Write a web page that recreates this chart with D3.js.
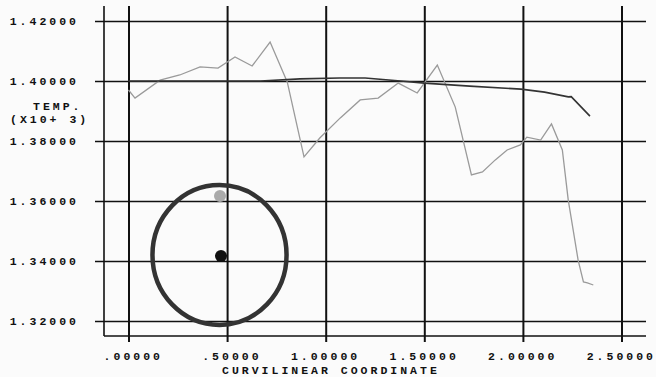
<!DOCTYPE html>
<html>
<head>
<meta charset="utf-8">
<script src="https://cdn.jsdelivr.net/npm/d3@7"></script>
<style>
  body { margin: 0; background: #fbfbfb; }
  svg { display: block; }
  text { font-family: "Liberation Mono", "DejaVu Sans Mono", monospace; font-weight: bold; font-size: 11.5px; letter-spacing: 3px; fill: #111; }
</style>
</head>
<body>
<svg id="chart"></svg>
<script>
var svgWidth = 656;
var svgHeight = 377;

// tick values
var xTicks = [0, 0.5, 1.0, 1.5, 2.0, 2.5];
var yTicks = [1.32, 1.34, 1.36, 1.38, 1.40, 1.42];

// dark curve (nearly flat)
var darkX = [0.00, 0.36, 0.67, 0.87, 1.07, 1.20, 1.38, 1.50, 1.73, 1.99, 2.11, 2.23, 2.245, 2.29, 2.34];
var darkY = [1.4000, 1.4000, 1.4000, 1.4007, 1.4010, 1.4010, 1.4000, 1.3993, 1.3983, 1.3973, 1.3963, 1.3947, 1.3948, 1.3917, 1.3883];

// grey curve (oscillating)
var greyX = [0.000, 0.033, 0.16, 0.26, 0.363, 0.454, 0.54, 0.627, 0.718, 0.805, 0.89, 0.97, 1.074, 1.175, 1.266,
             1.368, 1.464, 1.566, 1.657, 1.739, 1.795, 1.86, 1.92, 1.987, 2.02, 2.09, 2.145, 2.20, 2.23, 2.28,
             2.307, 2.327, 2.357];
var greyY = [1.3970, 1.3943, 1.4003, 1.4020, 1.4047, 1.4043, 1.4080, 1.4050, 1.4130, 1.3997, 1.3747, 1.3810, 1.3877, 1.3937, 1.3943,
             1.3993, 1.3960, 1.4053, 1.3913, 1.3687, 1.3697, 1.3737, 1.3770, 1.3787, 1.3813, 1.3803, 1.3857, 1.3770, 1.3603, 1.3403,
             1.3330, 1.3327, 1.3320];

// inset pipe section: ring and two marker points (data units)
var ringCenter = [0.4615, 1.3420];
var ringRadius = [0.340, 0.0233];
var dotX = [0.469, 0.464];
var dotY = [1.3417, 1.3617];
var dotColor = ["#111", "#aaa"];

var svg = d3.select("#chart")
  .attr("width", svgWidth)
  .attr("height", svgHeight);

var x = d3.scaleLinear().domain([0, 2.5]).range([128.5, 621.5]);
var y = d3.scaleLinear().domain([1.32, 1.42]).range([321, 21]);

var frameLeft = 104, frameBottom = 336;
var gridLeft = 95, gridRight = 646, gridTop = 6, gridBottom = 342;

// horizontal grid + y labels
var yAxis = d3.axisLeft(y)
  .tickValues(yTicks)
  .tickSize(gridRight - gridLeft)
  .tickPadding(16)
  .tickFormat(d3.format(".5f"));

var gy = svg.append("g")
  .attr("transform", `translate(${gridRight},0)`)
  .call(yAxis);
gy.select(".domain").remove();
gy.selectAll("line").attr("stroke", "#111").attr("stroke-width", 1.3);

// vertical grid + x labels (leading zero dropped, as in the original)
var xAxis = d3.axisBottom(x)
  .tickValues(xTicks)
  .tickSize(gridBottom - gridTop)
  .tickPadding(10)
  .tickFormat(d => d3.format(".5f")(d).replace(/^0/, ""));

var gx = svg.append("g")
  .attr("transform", `translate(0,${gridTop})`)
  .call(xAxis);
gx.select(".domain").remove();
gx.selectAll("line").attr("stroke", "#111").attr("stroke-width", 2);
gx.selectAll("text").attr("text-anchor", "end").attr("dx", 34);

// frame
svg.append("line")
  .attr("x1", frameLeft).attr("x2", frameLeft)
  .attr("y1", gridTop).attr("y2", frameBottom)
  .attr("stroke", "#111").attr("stroke-width", 1.6);
svg.append("line")
  .attr("x1", frameLeft).attr("x2", gridRight)
  .attr("y1", frameBottom).attr("y2", frameBottom)
  .attr("stroke", "#111").attr("stroke-width", 1.6);

// curves
var line = d3.line().x(d => x(d[0])).y(d => y(d[1]));

svg.append("path")
  .datum(greyX.map((v, i) => [v, greyY[i]]))
  .attr("d", line)
  .attr("fill", "none")
  .attr("stroke", "#9a9a9a")
  .attr("stroke-width", 1.3);

svg.append("path")
  .datum(darkX.map((v, i) => [v, darkY[i]]))
  .attr("d", line)
  .attr("fill", "none")
  .attr("stroke", "#333")
  .attr("stroke-width", 1.6);

// inset ring
svg.append("ellipse")
  .attr("cx", x(ringCenter[0]))
  .attr("cy", y(ringCenter[1]))
  .attr("rx", x(ringRadius[0]) - x(0))
  .attr("ry", y(1.32) - y(1.32 + ringRadius[1]))
  .attr("fill", "none")
  .attr("stroke", "#333")
  .attr("stroke-width", 4.5);

svg.selectAll(".dot")
  .data(dotX)
  .enter()
  .append("circle")
  .attr("class", "dot")
  .attr("cx", d => x(d))
  .attr("cy", (d, i) => y(dotY[i]))
  .attr("r", 6)
  .attr("fill", (d, i) => dotColor[i]);

// axis titles
svg.append("text").attr("x", 33).attr("y", 110).text("TEMP.");
svg.append("text").attr("x", 10).attr("y", 123).text("(X10+ 3)");
svg.append("text")
  .attr("x", 222).attr("y", 374)
  .text("CURVILINEAR COORDINATE");
</script>
</body>
</html>
